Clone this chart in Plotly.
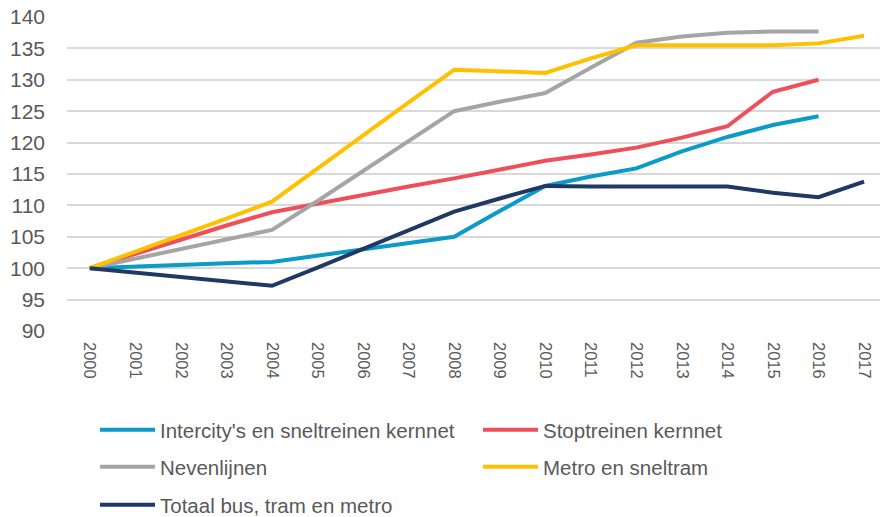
import plotly.graph_objects as go

years = list(range(2000, 2018))
year_labels = [str(y) for y in years]

intercity = [100, 100.3, 100.6, 100.8, 101.0, 102.0, 103.0, 104.0, 105.0, 109.1, 113.1, 114.6, 115.9, 118.6, 120.9, 122.8, 124.2, None]
stoptreinen = [100, 102.3, 104.6, 106.8, 108.9, 110.3, 111.6, 113.0, 114.3, 115.7, 117.1, 118.1, 119.2, 120.8, 122.6, 128.1, 130.0, None]
nevenlijnen = [100, 101.5, 103.0, 104.5, 106.1, 110.7, 115.5, 120.2, 125.0, 126.5, 127.9, 131.9, 135.9, 136.9, 137.5, 137.7, 137.7, None]
metro = [100, 102.6, 105.3, 107.9, 110.6, 115.9, 121.1, 126.4, 131.6, 131.4, 131.1, 133.4, 135.5, 135.5, 135.5, 135.5, 135.8, 137.0]
totaal = [100, 99.3, 98.5, 97.8, 97.2, 100.1, 103.1, 106.0, 109.0, 111.1, 113.1, 113.0, 113.0, 113.0, 113.0, 112.0, 111.3, 113.8]

series = [
    ("Intercity's en sneltreinen kernnet", intercity, "#0a9bc6", "legend"),
    ("Stoptreinen kernnet", stoptreinen, "#ef4f5b", "legend"),
    ("Nevenlijnen", nevenlijnen, "#a5a5a5", "legend2"),
    ("Metro en sneltram", metro, "#ffc000", "legend2"),
    ("Totaal bus, tram en metro", totaal, "#1f3864", "legend3"),
]

FONT = "Liberation Sans, Arial, sans-serif"
GREY = "#595959"

fig = go.Figure()
for name, vals, color, leg in series:
    fig.add_trace(go.Scatter(
        x=years, y=vals, name=name, mode="lines",
        line=dict(color=color, width=4),
        legend=leg,
    ))

fig.update_layout(
    width=880, height=517,
    paper_bgcolor="white", plot_bgcolor="white",
    margin=dict(l=67, r=0, t=17, b=186, autoexpand=False),
    font=dict(family=FONT, color=GREY, size=20),
    xaxis=dict(
        range=[1999.5, 2017.35],
        tickmode="array", tickvals=years, ticktext=year_labels,
        tickangle=90, tickfont=dict(size=16.5, color=GREY),
        showgrid=False, zeroline=False, showline=False, ticks="",
        ticklabelstandoff=10,
    ),
    yaxis=dict(
        range=[90, 140], dtick=5, tick0=90,
        showgrid=True, gridcolor="#d9d9d9", gridwidth=1.5,
        zeroline=False, showline=False, ticks="",
        tickfont=dict(size=21, color=GREY),
        ticklabelstandoff=21,
    ),
)

common = dict(
    orientation="h", xref="container", yref="container",
    xanchor="left", yanchor="middle",
    font=dict(family=FONT, size=20.5, color=GREY),
    bgcolor="rgba(0,0,0,0)", itemwidth=55,
    entrywidth=313, entrywidthmode="pixels",
)
fig.update_layout(
    legend=dict(x=95 / 880, y=1 - 430 / 517, **common),
    legend2=dict(x=95 / 880, y=1 - 467 / 517, **common),
    legend3=dict(x=95 / 880, y=1 - 505 / 517, **common),
)

fig.write_html(
    "out.html",
    config={"displayModeBar": False},
    post_script="document.body.style.margin='0px';",
)
